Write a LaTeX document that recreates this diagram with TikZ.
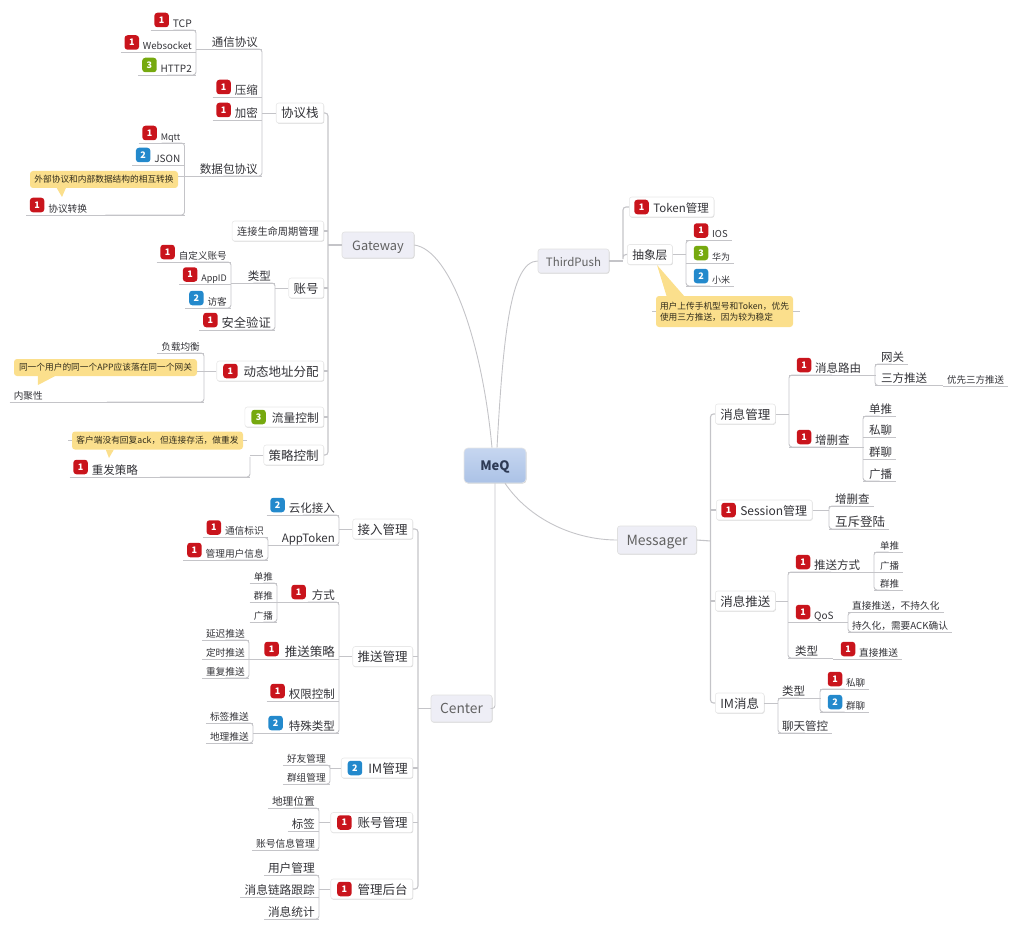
\documentclass[tikz,border=0pt]{standalone}
\usepackage{fontspec}
\setmainfont{Noto Sans CJK SC}
\usepackage{xcolor}
\usetikzlibrary{calc,shadows}
\definecolor{pone}{HTML}{C9141C}
\definecolor{ptwo}{HTML}{2389CC}
\definecolor{pthree}{HTML}{76A90F}
\definecolor{notefill}{HTML}{FBDF8C}
\definecolor{linkgray}{HTML}{C4C4C8}
\definecolor{inkgray}{HTML}{333338}
\definecolor{lav}{HTML}{EEEEF6}
\definecolor{meqtop}{HTML}{C6D6F0}
\definecolor{meqbot}{HTML}{ABC2E6}
\definecolor{meqink}{HTML}{2D3A55}
\tikzset{
	fs/.style={font=\fontsize{#1}{#1}\selectfont},
	conn/.style={draw=linkgray, line width=.9pt},
	trunkline/.style={draw=linkgray, line width=1.1pt},
	twig/.style={inner xsep=4pt, inner ysep=1pt, text=inkgray, text height=8.5pt, text depth=1.5pt},
	wr/.style={text width=#1, align=right},
	wl/.style={text width=#1, align=left},
	prio/.style={rounded corners=3pt, minimum size=14.5pt, inner sep=0pt, text=white, font=\bfseries\fontsize{9}{9}\selectfont},
	prio1/.style={fill=pone},
	prio2/.style={fill=ptwo},
	prio3/.style={fill=pthree},
	topic/.style={draw=black!9, line width=.6pt, fill=white, rounded corners=2.5pt, inner xsep=5pt, inner ysep=0pt, minimum height=20pt, text=inkgray, text height=10pt, text depth=0pt, drop shadow={shadow xshift=.5pt, shadow yshift=-.7pt, opacity=.18, fill=black}},
	mainbox/.style={topic, fill=lav, draw=black!12, text=black!62, minimum height=26pt},
	notebox/.style={fill=notefill, rounded corners=3pt, inner sep=0pt, text=black!80!notefill, fs=8.7, align=left},
}
% leaf with underline; L: underline ends at the right, R: starts at the left
\newcommand{\lleaf}[5][]{
	\node[twig, fs=#4, anchor=south east, #1] (#2) at #3 {#5};
	\draw[conn] (#2.south west) -- (#2.south east);
}
\newcommand{\rleaf}[5][]{
	\node[twig, fs=#4, anchor=south west, #1] (#2) at #3 {#5};
	\draw[conn] (#2.south west) -- (#2.south east);
}
\newcommand{\lpleaf}[6][]{
	\node[twig, fs=#4, anchor=south east, #1] (#2) at #3 {\hspace*{18pt}#6};
	\draw[conn] (#2.south west) -- (#2.south east);
	\node[prio, prio#5] (#2p) at ($(#2.south west)+(11,-10)$) {#5};
}
% the same with a long underline, mark placed #6 from its left end
\newcommand{\lpwide}[7][]{
	\node[twig, fs=#4, anchor=south east, #1] (#2) at #3 {#7};
	\draw[conn] (#2.south west) -- (#2.south east);
	\node[prio, prio#5] (#2p) at ($(#2.south west)+(#6,-10)$) {#5};
}
\newcommand{\rpleaf}[6][]{
	\node[twig, fs=#4, anchor=south west, #1] (#2) at #3 {\hspace*{22pt}#6};
	\draw[conn] (#2.south west) -- (#2.south east);
	\node[prio, prio#5] (#2p) at ($(#2.south west)+(15,-10)$) {#5};
}
% boxed topic with a priority mark
\newcommand{\pbox}[6][]{
	\node[topic, fs=#4, #1] (#2) at #3 {\hspace*{19pt}#6};
	\node[prio, prio#5] (#2p) at ($(#2.west)+(12.5,0)$) {#5};
}
\newcommand{\lbox}[5]{
	\node[topic, fs=#3, anchor=east] (#1) at #2 {\hspace*{22pt}#5};
	\node[prio, prio#4] (#1p) at ($(#1.west)+(14,0)$) {#4};
}
% pointer of a yellow note
\newcommand{\note}[4]{
	\fill[notefill] ($(#2)+#3$) -- ($(#2)+#4$) -- #1;
}
% bracket from a parent point to its first and last child
\newcommand{\treeL}[3]{
	\draw[conn, rounded corners=3pt] (#2.south) -| (#1 -| #2.south east) |- (#3.south);
	\draw[conn] (#1) -- (#1 -| #2.south east);
}
\newcommand{\treeR}[3]{
	\draw[conn, rounded corners=3pt] (#2.south) -| (#1 -| #2.south west) |- (#3.south);
	\draw[conn] (#1) -- (#1 -| #2.south west);
}

\begin{document}
\begin{tikzpicture}[x=1pt, y=-1pt]
	\useasboundingbox (0,0) rectangle (1018,931);

	\node[topic, minimum width=62pt, minimum height=35pt, top color=meqtop, bottom color=meqbot, draw=black!10, rounded corners=4pt, text=meqink, font=\bfseries\fontsize{13}{13}\selectfont] (meq) at (495,465.5) {MeQ};

	% Gateway
	\node[mainbox, fs=12.8, minimum width=72pt] (gateway) at (378,245) {Gateway};
	\node[topic, fs=12.5, anchor=east] (stack) at (324,113) {协议栈};
	\node[topic, fs=10.2, anchor=east] (life) at (324,231) {连接生命周期管理};
	\node[topic, fs=12.5, anchor=east] (account) at (324,288) {账号};
	\lbox{addr}{(324,371)}{12.5}{1}{动态地址分配};
	\lbox{flow}{(324,417)}{11.7}{3}{流量控制};
	\node[topic, fs=12.5, anchor=east] (strategy) at (324,455) {策略控制};

	\lleaf[wr=57pt]{tongxin}{(262,49)}{11.5}{通信协议}
	\lpleaf{yasuo}{(262,97)}{11.5}{1}{压缩}
	\lpleaf{jiami}{(262,120)}{11.5}{1}{加密}
	\lleaf[wr=69pt]{shuju}{(262,176)}{11.6}{数据包协议}
	\lpleaf{tcp}{(196,30)}{10.3}{1}{TCP}
	\lpleaf{websocket}{(196,52.5)}{9.6}{1}{Websocket}
	\lpleaf{httptwo}{(196,75)}{10}{3}{HTTP2}
	\lpleaf{mqtt}{(184.5,143)}{9}{1}{Mqtt}
	\lpleaf{json}{(184.5,165)}{10}{2}{JSON}
	\lpleaf[wl=150pt]{convert}{(184.5,215)}{9.7}{1}{协议转换}
	\node[notebox, minimum width=148pt, minimum height=17pt] (noteext) at (104,179.5) {外部协议和内部数据结构的相互转换};
	\note{(62,197)}{noteext.south west}{(27,0)}{(36,0)}
	\draw[conn] (shuju.south west) -- (noteext.east |- shuju.south west);

	\lleaf[wr=35pt]{acctype}{(275,283)}{11.5}{类型}
	\lpleaf{safe}{(275,330)}{12.3}{1}{安全验证}
	\lpleaf{selfdef}{(231,262)}{9.6}{1}{自定义账号}
	\lpleaf{appid}{(231,284.5)}{9}{1}{AppID}
	\lpleaf{guest}{(231,308)}{9.6}{2}{访客}

	\lleaf{balance}{(204,353)}{9.6}{负载均衡}
	\lleaf[wl=186pt]{cohesion}{(204,402)}{9.6}{内聚性}
	\node[notebox, minimum width=183pt, minimum height=17pt] (noteapp) at (105.5,367.5) {同一个用户的同一个APP应该落在同一个网关};
	\note{(38,385)}{noteapp.south west}{(24,0)}{(41,0)}
	\draw[conn] (addr.west) -- (noteapp.east |- addr.west);

	\lpleaf[wl=172pt]{resend}{(250,477)}{11.5}{1}{重发策略}
	\node[notebox, minimum width=171pt, minimum height=18pt] (noteack) at (157.5,440.5) {客户端没有回复ack，但连接存活，做重发};
	\note{(109,458)}{noteack.south west}{(34,0)}{(42,0)}
	\draw[conn] (noteack.west) -- ++(-4,0);
	\draw[conn] (noteack.east) -- ++(4,0);

	\treeL{stack.west}{tongxin}{shuju}
	\treeL{tongxin.south west}{tcp}{httptwo}
	\treeL{shuju.south west}{mqtt}{convert}
	\treeL{account.west}{acctype}{safe}
	\treeL{acctype.south west}{selfdef}{guest}
	\treeL{addr.west}{balance}{cohesion}
	\treeL{strategy.west}{resend}{resend}

	\coordinate (gwtrunk) at (328,245);
	\draw[trunkline, rounded corners=3pt] (stack.east) -| (gwtrunk) |- (strategy.east);
	\foreach \c in {life,account,addr,flow}
		\draw[trunkline] (\c.east) -- (\c.east -| gwtrunk);
	\draw[trunkline] (gateway.west) -- (gwtrunk);

	% ThirdPush
	\node[mainbox, fs=11.5, minimum width=71pt, minimum height=24pt] (thirdpush) at (573.5,261) {ThirdPush};
	\pbox[anchor=west]{token}{(629,207)}{11.5}{1}{Token管理};
	\node[topic, fs=11.7, anchor=west] (abstract) at (627,254.5) {抽象层};
	\rpleaf{ios}{(686,240.5)}{9.5}{1}{IOS}
	\rpleaf{huawei}{(686,263)}{9}{3}{华为}
	\rpleaf{xiaomi}{(686,286)}{9}{2}{小米}
	\node[notebox, minimum width=137pt, minimum height=31pt, inner xsep=4pt] (notepush) at (724.5,311.5) {用户上传手机型号和Token，优先\\[2.5pt]使用三方推送，因为较为稳定};
	\note{(657,265)}{notepush.north west}{(11,1)}{(29,1)}
	\draw[conn] (notepush.west) -- ++(-4,0);
	\draw[conn] (notepush.east) -- ++(7,0);

	\coordinate (tptrunk) at (623,261);
	\draw[trunkline, rounded corners=3pt] (token.west) -| (tptrunk) |- (abstract.west);
	\draw[trunkline] (thirdpush.east) -- (tptrunk);
	\treeR{abstract.east}{ios}{xiaomi}

	% Messager
	\node[mainbox, fs=14, minimum width=79pt, minimum height=28pt] (messager) at (657,540) {Messager};
	\node[topic, fs=12.5, anchor=west] (msgmgr) at (715,414) {消息管理};
	\pbox[anchor=west]{session}{(716,510)}{12}{1}{Session管理};
	\node[topic, fs=12.5, anchor=west] (msgpush) at (715,601) {消息推送};
	\node[topic, fs=12.5, anchor=west] (immsg) at (715,703) {IM消息};

	\rpleaf[wl=78pt]{route}{(789,375)}{11.5}{1}{消息路由}
	\rpleaf[wl=66pt]{crud}{(789,447)}{11.5}{1}{增删查}
	\rleaf{gatewaynet}{(875,364)}{11.5}{\hspace*{2pt}网关}
	\rleaf[wl=60pt]{third}{(875,385.5)}{11.5}{\hspace*{2pt}三方推送}
	\rleaf{thirdfirst}{(943,386)}{9.5}{优先三方推送}
	\rleaf{sgl}{(863,416)}{11.5}{\hspace*{2pt}单推}
	\rleaf{priv}{(863,437)}{11.5}{\hspace*{2pt}私聊}
	\rleaf{grp}{(863,459)}{11.5}{\hspace*{2pt}群聊}
	\rleaf{cast}{(863,481)}{11.5}{\hspace*{2pt}广播}

	\rleaf{sessioncrud}{(829,506)}{11.5}{\hspace*{2pt}增删查}
	\rleaf{mutex}{(829,529)}{12.5}{\hspace*{2pt}互斥登陆}

	\rpleaf[wl=78pt]{pushway}{(788,572)}{11.5}{1}{推送方式}
	\rpleaf[wl=51pt]{qos}{(788,622)}{10}{1}{QoS}
	\rleaf[wl=37pt]{pushtype}{(788,658)}{11.5}{\hspace*{3pt}类型}
	\rleaf{onesgl}{(874,552)}{9.5}{\hspace*{2pt}单推}
	\rleaf{onecast}{(874,572)}{9.5}{\hspace*{2pt}广播}
	\rleaf{onegrp}{(874,590)}{9.5}{\hspace*{2pt}群推}
	\rleaf{direct}{(848,612.5)}{9.7}{直接推送，不持久化}
	\rleaf{persist}{(848,632)}{9.7}{持久化，需要ACK确认}
	\rpleaf{directp}{(833,659)}{9.7}{1}{直接推送}

	\rleaf[wl=34pt]{imtype}{(778,698)}{11.5}{类型}
	\rleaf{chatctl}{(778,733)}{11.5}{聊天管控}
	\rpleaf{imone}{(820,689)}{9.5}{1}{私聊}
	\rpleaf{imgrp}{(820,712)}{9.5}{2}{群聊}

	\treeR{msgmgr.east}{route}{crud}
	\treeR{route.south east}{gatewaynet}{third}
	\treeR{crud.south east}{sgl}{cast}
	\treeR{session.east}{sessioncrud}{mutex}
	\treeR{msgpush.east}{pushway}{pushtype}
	\treeR{pushway.south east}{onesgl}{onegrp}
	\treeR{qos.south east}{direct}{persist}
	\treeR{immsg.east}{imtype}{chatctl}
	\treeR{imtype.south east}{imone}{imgrp}

	\coordinate (mstrunk) at (710.5,541);
	\draw[trunkline, rounded corners=3pt] (msgmgr.west) -| (mstrunk) |- (immsg.west);
	\draw[trunkline] (session.west) -- (session.west -| mstrunk);
	\draw[trunkline] (msgpush.west) -- (msgpush.west -| mstrunk);
	\draw[trunkline] (messager.east) -- (mstrunk);

	% Center
	\node[mainbox, fs=13.8, minimum width=61pt, minimum height=27pt] (center) at (461.5,708.5) {Center};
	\node[topic, fs=12.5, anchor=east] (access) at (413,529) {接入管理};
	\node[topic, fs=12.5, anchor=east] (pushmgr) at (413,656.5) {推送管理};
	\lbox{immgr}{(413,768)}{12.7}{2}{IM管理};
	\lbox{acctmgr}{(413,822.5)}{12.5}{1}{账号管理};
	\lbox{admin}{(413,889)}{12.5}{1}{管理后台};

	\lpleaf{cloud}{(339,515)}{11.5}{2}{云化接入}
	\lleaf[wr=63pt]{apptoken}{(339,545)}{11.5}{AppToken}
	\lpleaf{commid}{(268,537.5)}{9.7}{1}{通信标识}
	\lpleaf{userinfo}{(268,560)}{9.7}{1}{管理用户信息}

	\lpwide[wr=54pt]{way}{(339,602)}{11.5}{1}{22}{方式}
	\lpwide[wr=82pt]{policy}{(339,659)}{12.5}{1}{23}{推送策略}
	\lpleaf{perm}{(339,701)}{11.5}{1}{权限控制}
	\lpwide[wr=76pt]{special}{(339,733)}{11.5}{2}{21}{特殊类型}
	\lleaf{waysgl}{(277,583)}{9.5}{单推}
	\lleaf{waygrp}{(277,602)}{9.5}{群推}
	\lleaf{waycast}{(277,622)}{9.5}{广播}
	\lleaf{delay}{(249,640)}{9.7}{延迟推送}
	\lleaf{timed}{(249,659)}{9.7}{定时推送}
	\lleaf{repeated}{(249,678)}{9.7}{重复推送}
	\lleaf{tagpush}{(253,723)}{9.7}{标签推送}
	\lleaf{geopush}{(253,743)}{9.7}{地理推送}

	\lleaf{friend}{(330,765)}{9.7}{好友管理}
	\lleaf{group}{(330,784)}{9.7}{群组管理}
	\lleaf{geoloc}{(319,808)}{10.7}{地理位置}
	\lleaf{tag}{(319,831)}{11.5}{标签}
	\lleaf{acctinfo}{(319,850)}{9.8}{账号信息管理}
	\lleaf{usermgr}{(319,875)}{11.7}{用户管理}
	\lleaf{trace}{(319,897)}{11.7}{消息链路跟踪}
	\lleaf{stats}{(319,919)}{11.7}{消息统计}

	\treeL{access.west}{cloud}{apptoken}
	\treeL{apptoken.south west}{commid}{userinfo}
	\treeL{pushmgr.west}{way}{special}
	\treeL{way.south west}{waysgl}{waycast}
	\treeL{policy.south west}{delay}{repeated}
	\treeL{special.south west}{tagpush}{geopush}
	\treeL{immgr.west}{friend}{group}
	\treeL{acctmgr.west}{geoloc}{acctinfo}
	\treeL{admin.west}{usermgr}{stats}

	\coordinate (cttrunk) at (418,708.5);
	\draw[trunkline, rounded corners=3pt] (access.east) -| (cttrunk) |- (admin.east);
	\foreach \c in {pushmgr,immgr,acctmgr}
		\draw[trunkline] (\c.east) -- (\c.east -| cttrunk);
	\draw[trunkline] (center.west) -- (cttrunk);

	% main branches
	\draw[conn] (gateway.east) .. controls (450,250) and (482,340) .. ($(meq.north)+(-3,0)$);
	\draw[conn] (thirdpush.west) .. controls (510,261) and (503,340) .. ($(meq.north)+(2,0)$);
	\draw[conn] ($(meq.south)+(10,0)$) .. controls (530,520) and (575,540) .. (messager.west);
	\draw[conn, rounded corners=3pt] (meq.south) -- (center.east -| meq.south) -- (center.east);
\end{tikzpicture}
\end{document}
